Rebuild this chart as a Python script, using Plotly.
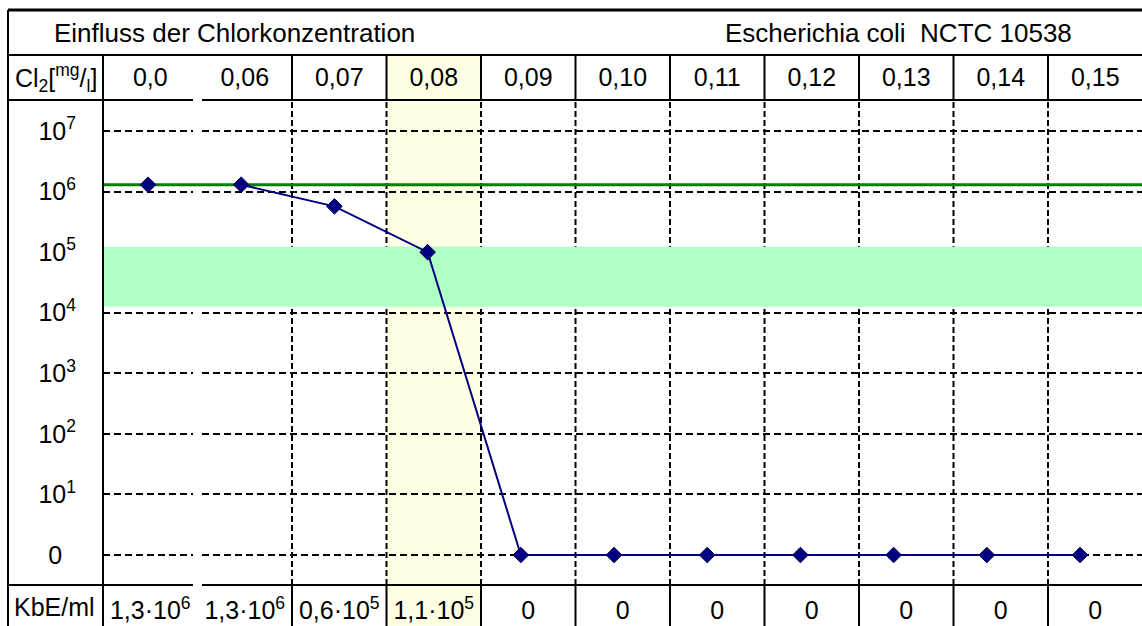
import math
import plotly.graph_objects as go

# ---------------- data ----------------
chlorine_labels = ["0,0", "0,06", "0,07", "0,08", "0,09", "0,10", "0,11", "0,12", "0,13", "0,14", "0,15"]
kbe_values = [1.3e6, 1.3e6, 5.7e5, 1.0e5, 0, 0, 0, 0, 0, 0, 0]
kbe_labels = ["1,3·10<sup>6</sup>", "1,3·10<sup>6</sup>", "0,6·10<sup>5</sup>", "1,1·10<sup>5</sup>",
              "0", "0", "0", "0", "0", "0", "0"]
y_tick_vals = [0, 1, 2, 3, 4, 5, 6, 7]
y_tick_text = ["0&nbsp;&nbsp;", "10<sup>1</sup>", "10<sup>2</sup>", "10<sup>3</sup>", "10<sup>4</sup>",
               "10<sup>5</sup>", "10<sup>6</sup>", "10<sup>7</sup>"]
initial_count = 1.3e6
band_low, band_high = 1.25e4, 1.23e5
highlight_col = 3

# ---------------- layout geometry (pixels) ----------------
W, H = 1142, 626
TABLE_LEFT, TABLE_TOP = 8, 10
ROW2_TOP, PLOT_TOP, PLOT_BOTTOM = 55, 100, 585
LABEL_RIGHT = 103
COL_W = 94.5
GAP_L, GAP_R = 193, 202
FONT = "Arial, Liberation Sans, sans-serif"
FS = 25
X_RANGE = [-0.483, 10.665]
Y_RANGE = [-0.495, 7.512]


def px(p):
    return p / W


def py(p):
    return 1 - p / H


def xdata(p):
    # pixel -> main x-axis data units
    return X_RANGE[0] + (p - LABEL_RIGHT) / (W - LABEL_RIGHT) * (X_RANGE[1] - X_RANGE[0])


log_vals = [math.log10(v) if v > 0 else 0 for v in kbe_values]
xi = list(range(len(chlorine_labels)))
n_cols = len(chlorine_labels)
col_centers = [k + 0.5 for k in range(n_cols)]

fig = go.Figure()
fig.add_trace(go.Scatter(x=xi[1:], y=log_vals[1:], mode="lines",
                         line=dict(color="#000080", width=2), hoverinfo="skip", showlegend=False))
fig.add_trace(go.Scatter(x=xi, y=log_vals, mode="markers",
                         marker=dict(symbol="diamond", size=12, color="#000080",
                                     line=dict(color="#000040", width=1)),
                         showlegend=False))
fig.add_trace(go.Scatter(x=[0.5], y=[None], xaxis="x2", yaxis="y", showlegend=False, hoverinfo="skip"))
fig.add_trace(go.Scatter(x=[0.5], y=[None], xaxis="x3", yaxis="y", showlegend=False, hoverinfo="skip"))

col_range = [0, (W - LABEL_RIGHT) / COL_W]

fig.update_layout(
    width=W, height=H,
    margin=dict(l=0, r=0, t=0, b=0),
    paper_bgcolor="white", plot_bgcolor="rgba(0,0,0,0)",
    font=dict(family=FONT, size=FS, color="black"),
    showlegend=False,
    xaxis=dict(domain=[px(LABEL_RIGHT), 1], range=X_RANGE, showgrid=False, zeroline=False,
               showticklabels=False, showline=False, fixedrange=True),
    xaxis2=dict(overlaying="x", side="top", anchor="y", range=col_range,
                tickvals=col_centers, ticktext=chlorine_labels, showgrid=False, zeroline=False,
                ticks="", showline=False, ticklabelstandoff=8, tickfont=dict(size=FS)),
    xaxis3=dict(overlaying="x", side="bottom", anchor="y", range=col_range,
                tickvals=col_centers, ticktext=kbe_labels, showgrid=False, zeroline=False,
                ticks="", showline=False, ticklabelstandoff=8, tickfont=dict(size=FS)),
    yaxis=dict(domain=[py(PLOT_BOTTOM), py(PLOT_TOP)], range=Y_RANGE, tickvals=y_tick_vals,
               ticktext=y_tick_text, showgrid=True, gridcolor="black", gridwidth=2, griddash="7px,4px",
               zeroline=False, showline=False, ticks="", ticklabelstandoff=26, tickfont=dict(size=FS)),
)

shapes = []
shapes.append(dict(type="rect", xref="paper", yref="paper",
                   x0=px(LABEL_RIGHT + highlight_col * COL_W), x1=px(LABEL_RIGHT + (highlight_col + 1) * COL_W),
                   y0=0, y1=py(ROW2_TOP), fillcolor="#FFFFE3", line=dict(width=0), layer="below"))
shapes.append(dict(type="rect", xref="x", yref="y", x0=xdata(GAP_L), x1=xdata(GAP_R),
                   y0=Y_RANGE[0], y1=Y_RANGE[1], fillcolor="white", line=dict(width=0), layer="between"))
for k in range(2, n_cols):
    xx = xdata(LABEL_RIGHT + k * COL_W)
    shapes.append(dict(type="line", xref="x", yref="y", x0=xx, x1=xx, y0=Y_RANGE[0], y1=Y_RANGE[1],
                       line=dict(color="black", width=2, dash="6px,3px"), layer="between"))
shapes.append(dict(type="rect", xref="x", yref="y", x0=X_RANGE[0], x1=X_RANGE[1],
                   y0=math.log10(band_low), y1=math.log10(band_high),
                   fillcolor="#B0FFC4", line=dict(width=0), layer="between"))
shapes.append(dict(type="line", xref="x", yref="y", x0=X_RANGE[0], x1=X_RANGE[1],
                   y0=math.log10(initial_count), y1=math.log10(initial_count),
                   line=dict(color="#008000", width=3), layer="between"))


def hline(y, x0, x1, w=2):
    shapes.append(dict(type="line", xref="paper", yref="paper", x0=px(x0), x1=px(x1), y0=py(y), y1=py(y),
                       line=dict(color="black", width=w), layer="above"))


def vline(x, y0, y1, w=2):
    shapes.append(dict(type="line", xref="paper", yref="paper", x0=px(x), x1=px(x), y0=py(y0), y1=py(y1),
                       line=dict(color="black", width=w), layer="above"))


hline(TABLE_TOP, TABLE_LEFT, W, 3)
hline(ROW2_TOP, TABLE_LEFT, W)
for yy in (PLOT_TOP, PLOT_BOTTOM):
    hline(yy, TABLE_LEFT, GAP_L)
    hline(yy, GAP_R, W)
vline(TABLE_LEFT, TABLE_TOP, H)
vline(LABEL_RIGHT, ROW2_TOP, H)
for k in range(2, n_cols):
    xx = LABEL_RIGHT + k * COL_W
    vline(xx, ROW2_TOP, PLOT_TOP)
    vline(xx, PLOT_BOTTOM, H)

fig.update_layout(shapes=shapes)

ann = [
    dict(text="Einfluss der Chlorkonzentration", x=px(52), y=py(33), xanchor="left", font=dict(size=26)),
    dict(text="Escherichia coli&nbsp; NCTC 10538", x=px(1074), y=py(33), xanchor="right", font=dict(size=26)),
    dict(text="Cl<sub>2</sub>[<sup>mg</sup>/<sub>l</sub>]", x=px(56), y=py(78), xanchor="center", font=dict(size=FS)),
    dict(text="KbE/ml", x=px(54), y=py(607), xanchor="center", font=dict(size=FS)),
]
for a in ann:
    a.update(xref="paper", yref="paper", yanchor="middle", showarrow=False)
fig.update_layout(annotations=ann)

fig.write_html("out.html", config={"displayModeBar": False},
               post_script="document.body.style.margin='0';document.body.style.overflow='hidden';")
